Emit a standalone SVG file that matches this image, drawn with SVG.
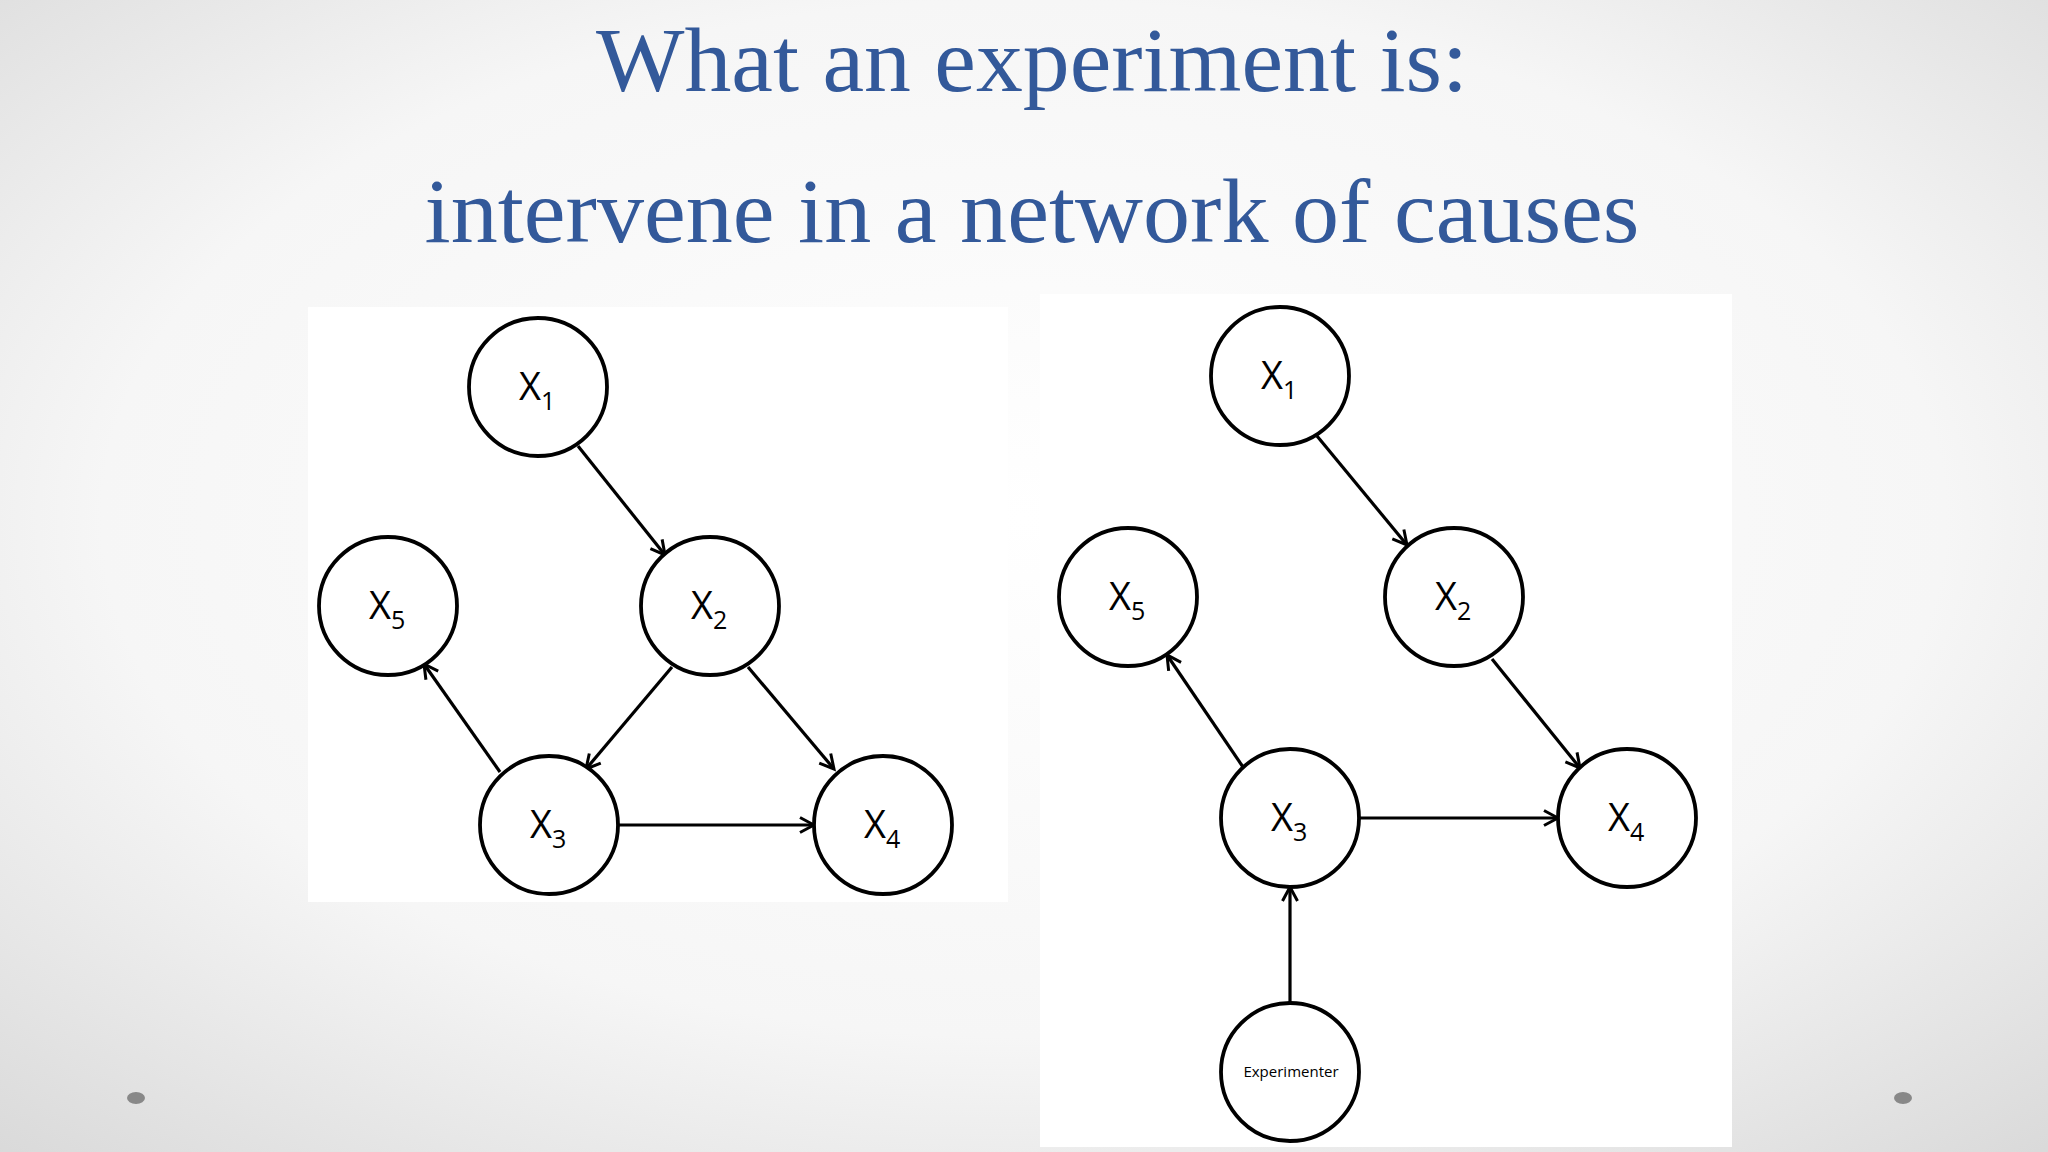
<svg xmlns="http://www.w3.org/2000/svg" width="2048" height="1152" viewBox="0 0 2048 1152">
<defs>
<radialGradient id="bg" cx="50%" cy="45%" r="75%">
<stop offset="0" stop-color="#ffffff"/><stop offset="0.6" stop-color="#f6f6f6"/><stop offset="1" stop-color="#d9d9d9"/>
</radialGradient>
<marker id="arr" markerWidth="20" markerHeight="20" refX="17" refY="10" orient="auto" markerUnits="userSpaceOnUse">
<path d="M3,2.5 L17,10 L3,17.5" fill="none" stroke="#000" stroke-width="3"/>
</marker>
<style>
.n{fill:#fff;stroke:#000;stroke-width:3.8}
.t{font-family:"Open Sans","Liberation Sans",sans-serif;font-size:38px;fill:#000}
.s{font-size:25px}
.e{stroke:#000;stroke-width:3.2;fill:none;marker-end:url(#arr)}
.title{font-family:"Liberation Serif",serif;font-size:92px;fill:#33599A;text-anchor:middle}
</style>
</defs>
<rect width="2048" height="1152" fill="url(#bg)"/>
<text class="title" x="1032" y="91" textLength="872" lengthAdjust="spacingAndGlyphs">What an experiment is:</text>
<text class="title" x="1032" y="242" textLength="1215" lengthAdjust="spacingAndGlyphs">intervene in a network of causes</text>
<rect x="308" y="307" width="700" height="595" fill="#fff"/>
<rect x="1040" y="294" width="692" height="853" fill="#fff"/>
<ellipse cx="136" cy="1098" rx="9" ry="6" fill="#888"/>
<ellipse cx="1903" cy="1098" rx="9" ry="6" fill="#888"/>
<g id="connectors">
<line class="e" x1="578" y1="446" x2="665" y2="555"/>
<line class="e" x1="672" y1="667" x2="586" y2="769"/>
<line class="e" x1="748" y1="667" x2="834" y2="769"/>
<line class="e" x1="500" y1="772" x2="424" y2="664"/>
<line class="e" x1="618" y1="825" x2="814" y2="825"/>
<line class="e" x1="1317" y1="436" x2="1407" y2="545"/>
<line class="e" x1="1492" y1="659" x2="1580" y2="768"/>
<line class="e" x1="1243" y1="767" x2="1167" y2="655"/>
<line class="e" x1="1359" y1="818" x2="1558" y2="818"/>
<line class="e" x1="1290" y1="1003" x2="1290" y2="887"/>
</g>
<g id="L1"><circle class="n" cx="538" cy="387" r="69"/><text class="t" x="519" y="400">X<tspan class="s" dy="10">1</tspan></text></g>
<g id="L5"><circle class="n" cx="388" cy="606" r="69"/><text class="t" x="369" y="619">X<tspan class="s" dy="10">5</tspan></text></g>
<g id="L2"><circle class="n" cx="710" cy="606" r="69"/><text class="t" x="691" y="619">X<tspan class="s" dy="10">2</tspan></text></g>
<g id="L3"><circle class="n" cx="549" cy="825" r="69"/><text class="t" x="530" y="838">X<tspan class="s" dy="10">3</tspan></text></g>
<g id="L4"><circle class="n" cx="883" cy="825" r="69"/><text class="t" x="864" y="838">X<tspan class="s" dy="10">4</tspan></text></g>
<g id="R1"><circle class="n" cx="1280" cy="376" r="69"/><text class="t" x="1261" y="389">X<tspan class="s" dy="10">1</tspan></text></g>
<g id="R5"><circle class="n" cx="1128" cy="597" r="69"/><text class="t" x="1109" y="610">X<tspan class="s" dy="10">5</tspan></text></g>
<g id="R2"><circle class="n" cx="1454" cy="597" r="69"/><text class="t" x="1435" y="610">X<tspan class="s" dy="10">2</tspan></text></g>
<g id="R3"><circle class="n" cx="1290" cy="818" r="69"/><text class="t" x="1271" y="831">X<tspan class="s" dy="10">3</tspan></text></g>
<g id="R4"><circle class="n" cx="1627" cy="818" r="69"/><text class="t" x="1608" y="831">X<tspan class="s" dy="10">4</tspan></text></g>
<g id="Exp"><circle class="n" cx="1290" cy="1072" r="69"/><text x="1291" y="1077" text-anchor="middle" font-family="Open Sans, Liberation Sans, sans-serif" font-size="15">Experimenter</text></g>
</svg>
